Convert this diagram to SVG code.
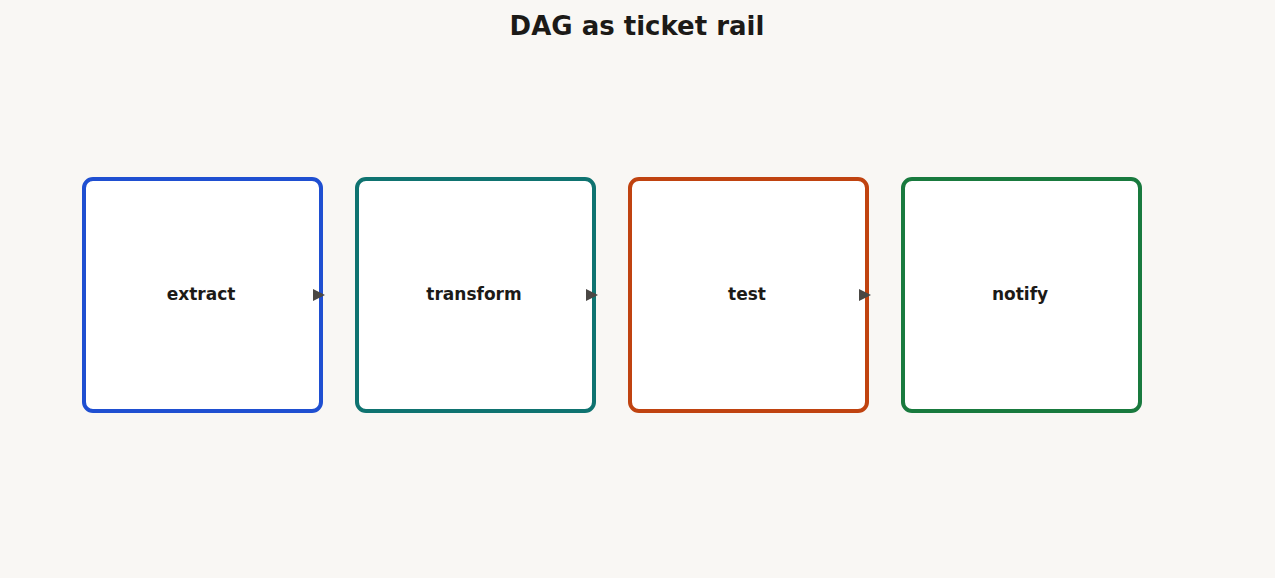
<svg xmlns="http://www.w3.org/2000/svg" width="1275" height="578" viewBox="0 0 1275 578">
<style>
.n{fill:#fff;stroke-width:4}
.t{font-family:"DejaVu Sans",sans-serif;font-weight:bold;font-size:17px;fill:#1c1a17;text-anchor:middle}
.c{stroke:#4a4744;stroke-width:3;fill:none}
</style>
<defs><marker id="a" markerWidth="4" markerHeight="4" refX="3" refY="2" orient="auto"><path d="M0,0L4,2L0,4z" fill="#4a4744"/></marker></defs>
<rect width="1275" height="578" fill="#f9f7f4"/>
<text x="637" y="35" class="t" style="font-size:26px">DAG as ticket rail</text>
<g id="extract"><rect x="84" y="179" width="237" height="232" rx="9" class="n" stroke="#1f4fd1"/><text x="201" y="300" class="t">extract</text></g>
<g id="transform"><rect x="357" y="179" width="237" height="232" rx="9" class="n" stroke="#0f7370"/><text x="474" y="300" class="t">transform</text></g>
<g id="test"><rect x="630" y="179" width="237" height="232" rx="9" class="n" stroke="#c04310"/><text x="747" y="300" class="t">test</text></g>
<g id="notify"><rect x="903" y="179" width="237" height="232" rx="9" class="n" stroke="#197a3e"/><text x="1020" y="300" class="t">notify</text></g>
<g id="connectors">
<line x1="313" y1="295" x2="322" y2="295" class="c" marker-end="url(#a)"/>
<line x1="586" y1="295" x2="595" y2="295" class="c" marker-end="url(#a)"/>
<line x1="859" y1="295" x2="868" y2="295" class="c" marker-end="url(#a)"/>
</g>
</svg>
